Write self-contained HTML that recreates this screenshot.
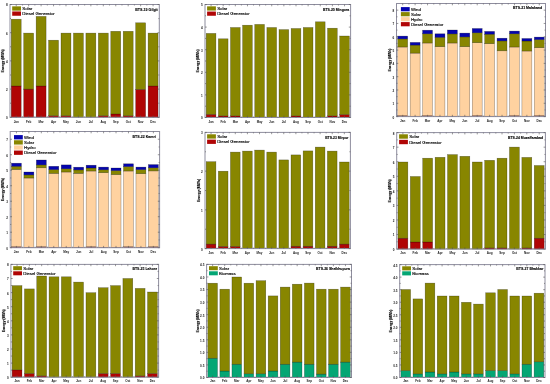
<!DOCTYPE html>
<html><head><meta charset="utf-8"><style>
html,body{margin:0;padding:0;background:#fff;}
body{width:550px;height:384px;overflow:hidden;}
svg{display:block;will-change:transform;}
text{font-family:"Liberation Sans",sans-serif;fill:#000;stroke:#000;stroke-width:0.1;}
.t{font-size:3.1px;font-weight:bold;stroke-width:0;fill:#1a1a1a;}
.m{font-size:3.0px;font-weight:bold;stroke-width:0;fill:#1a1a1a;}
.l{font-size:4.3px;stroke-width:0.14;}
.ti{font-size:3.9px;font-weight:bold;}
.b{stroke:#000;stroke-opacity:0.45;stroke-width:0.5;}
.yl{font-size:3.45px;font-weight:bold;}
</style></head><body>
<svg width="550" height="384" viewBox="0 0 550 384">
<rect width="550" height="384" fill="#fff"/>
<g><rect x="11.24" y="86" width="9.95" height="31.3" fill="#b00505" class="b"/>
<rect x="11.24" y="19.2" width="9.95" height="66.8" fill="#888600" class="b"/>
<rect x="23.69" y="89.1" width="9.95" height="28.2" fill="#b00505" class="b"/>
<rect x="23.69" y="33.1" width="9.95" height="56" fill="#888600" class="b"/>
<rect x="36.13" y="86" width="9.95" height="31.3" fill="#b00505" class="b"/>
<rect x="36.13" y="16.4" width="9.95" height="69.6" fill="#888600" class="b"/>
<rect x="48.57" y="115.8" width="9.95" height="1.5" fill="#b00505" class="b"/>
<rect x="48.57" y="40.2" width="9.95" height="75.6" fill="#888600" class="b"/>
<rect x="61.01" y="115.8" width="9.95" height="1.5" fill="#b00505" class="b"/>
<rect x="61.01" y="33.1" width="9.95" height="82.7" fill="#888600" class="b"/>
<rect x="73.45" y="33.1" width="9.95" height="84.2" fill="#888600" class="b"/>
<rect x="85.89" y="33.1" width="9.95" height="84.2" fill="#888600" class="b"/>
<rect x="98.34" y="115.8" width="9.95" height="1.5" fill="#b00505" class="b"/>
<rect x="98.34" y="33.1" width="9.95" height="82.7" fill="#888600" class="b"/>
<rect x="110.78" y="114" width="9.95" height="3.3" fill="#b00505" class="b"/>
<rect x="110.78" y="31.3" width="9.95" height="82.7" fill="#888600" class="b"/>
<rect x="123.22" y="115.8" width="9.95" height="1.5" fill="#b00505" class="b"/>
<rect x="123.22" y="31.3" width="9.95" height="84.5" fill="#888600" class="b"/>
<rect x="135.66" y="89.4" width="9.95" height="27.9" fill="#b00505" class="b"/>
<rect x="135.66" y="22.8" width="9.95" height="66.6" fill="#888600" class="b"/>
<rect x="148.1" y="86" width="9.95" height="31.3" fill="#b00505" class="b"/>
<rect x="148.1" y="33.1" width="9.95" height="52.9" fill="#888600" class="b"/>
<rect x="10" y="4.5" width="149.3" height="112.8" fill="none" stroke="#8e8d9e" stroke-width="1.0"/>
<path d="M10 117.3h1.8M159.3 117.3h-1.8M10 89.1h1.8M159.3 89.1h-1.8M10 60.9h1.8M159.3 60.9h-1.8M10 32.7h1.8M159.3 32.7h-1.8M10 4.5h1.8M159.3 4.5h-1.8M10 103.2h1M159.3 103.2h-1M10 75h1M159.3 75h-1M10 46.8h1M159.3 46.8h-1M10 18.6h1M159.3 18.6h-1M16.22 117.3v-1.8M16.22 4.5v1.8M28.66 117.3v-1.8M28.66 4.5v1.8M41.1 117.3v-1.8M41.1 4.5v1.8M53.55 117.3v-1.8M53.55 4.5v1.8M65.99 117.3v-1.8M65.99 4.5v1.8M78.43 117.3v-1.8M78.43 4.5v1.8M90.87 117.3v-1.8M90.87 4.5v1.8M103.31 117.3v-1.8M103.31 4.5v1.8M115.75 117.3v-1.8M115.75 4.5v1.8M128.2 117.3v-1.8M128.2 4.5v1.8M140.64 117.3v-1.8M140.64 4.5v1.8M153.08 117.3v-1.8M153.08 4.5v1.8M22.44 117.3v-1M22.44 4.5v1M34.88 117.3v-1M34.88 4.5v1M47.33 117.3v-1M47.33 4.5v1M59.77 117.3v-1M59.77 4.5v1M72.21 117.3v-1M72.21 4.5v1M84.65 117.3v-1M84.65 4.5v1M97.09 117.3v-1M97.09 4.5v1M109.53 117.3v-1M109.53 4.5v1M121.98 117.3v-1M121.98 4.5v1M134.42 117.3v-1M134.42 4.5v1M146.86 117.3v-1M146.86 4.5v1" stroke="#555" stroke-width="0.6" fill="none"/>
<text x="7.8" y="119.2" class="t" text-anchor="end">0</text>
<text x="7.8" y="91" class="t" text-anchor="end">2</text>
<text x="7.8" y="62.8" class="t" text-anchor="end">4</text>
<text x="7.8" y="34.6" class="t" text-anchor="end">6</text>
<text x="7.8" y="6.4" class="t" text-anchor="end">8</text>
<text x="16.22" y="123" class="m" text-anchor="middle">Jan</text>
<text x="28.66" y="123" class="m" text-anchor="middle">Feb</text>
<text x="41.1" y="123" class="m" text-anchor="middle">Mar</text>
<text x="53.55" y="123" class="m" text-anchor="middle">Apr</text>
<text x="65.99" y="123" class="m" text-anchor="middle">May</text>
<text x="78.43" y="123" class="m" text-anchor="middle">Jun</text>
<text x="90.87" y="123" class="m" text-anchor="middle">Jul</text>
<text x="103.31" y="123" class="m" text-anchor="middle">Aug</text>
<text x="115.75" y="123" class="m" text-anchor="middle">Sep</text>
<text x="128.2" y="123" class="m" text-anchor="middle">Oct</text>
<text x="140.64" y="123" class="m" text-anchor="middle">Nov</text>
<text x="153.08" y="123" class="m" text-anchor="middle">Dec</text>
<text transform="translate(4 60.9) rotate(-90)" class="yl" text-anchor="middle">Energy (MWh)</text>
<rect x="12.2" y="6.35" width="8.8" height="4.3" fill="#888600"/>
<text x="22.3" y="10" class="l">Solar</text>
<rect x="12.2" y="11.45" width="8.8" height="4.3" fill="#b00505"/>
<text x="22.3" y="15.1" class="l">Diesel Generator</text>
<text x="157.8" y="10.55" class="ti" style="font-size:3.6px" text-anchor="end">BTS-19 Gilgit</text></g>
<g><rect x="206.21" y="114.4" width="9.71" height="3.1" fill="#b00505" class="b"/>
<rect x="206.21" y="33.4" width="9.71" height="81" fill="#888600" class="b"/>
<rect x="218.35" y="115.9" width="9.71" height="1.6" fill="#b00505" class="b"/>
<rect x="218.35" y="38.8" width="9.71" height="77.1" fill="#888600" class="b"/>
<rect x="230.48" y="115.9" width="9.71" height="1.6" fill="#b00505" class="b"/>
<rect x="230.48" y="27.5" width="9.71" height="88.4" fill="#888600" class="b"/>
<rect x="242.61" y="25.2" width="9.71" height="92.3" fill="#888600" class="b"/>
<rect x="254.75" y="24.4" width="9.71" height="93.1" fill="#888600" class="b"/>
<rect x="266.88" y="27.5" width="9.71" height="90" fill="#888600" class="b"/>
<rect x="279.01" y="29.6" width="9.71" height="87.9" fill="#888600" class="b"/>
<rect x="291.15" y="115.9" width="9.71" height="1.6" fill="#b00505" class="b"/>
<rect x="291.15" y="28.5" width="9.71" height="87.4" fill="#888600" class="b"/>
<rect x="303.28" y="27.5" width="9.71" height="90" fill="#888600" class="b"/>
<rect x="315.41" y="21.8" width="9.71" height="95.7" fill="#888600" class="b"/>
<rect x="327.55" y="115.9" width="9.71" height="1.6" fill="#b00505" class="b"/>
<rect x="327.55" y="28.2" width="9.71" height="87.7" fill="#888600" class="b"/>
<rect x="339.68" y="114.6" width="9.71" height="2.9" fill="#b00505" class="b"/>
<rect x="339.68" y="36" width="9.71" height="78.6" fill="#888600" class="b"/>
<rect x="205" y="4.5" width="145.6" height="113" fill="none" stroke="#8e8d9e" stroke-width="1.0"/>
<path d="M205 117.5h1.8M350.6 117.5h-1.8M205 94.9h1.8M350.6 94.9h-1.8M205 72.3h1.8M350.6 72.3h-1.8M205 49.7h1.8M350.6 49.7h-1.8M205 27.1h1.8M350.6 27.1h-1.8M205 4.5h1.8M350.6 4.5h-1.8M205 106.2h1M350.6 106.2h-1M205 83.6h1M350.6 83.6h-1M205 61h1M350.6 61h-1M205 38.4h1M350.6 38.4h-1M205 15.8h1M350.6 15.8h-1M211.07 117.5v-1.8M211.07 4.5v1.8M223.2 117.5v-1.8M223.2 4.5v1.8M235.33 117.5v-1.8M235.33 4.5v1.8M247.47 117.5v-1.8M247.47 4.5v1.8M259.6 117.5v-1.8M259.6 4.5v1.8M271.73 117.5v-1.8M271.73 4.5v1.8M283.87 117.5v-1.8M283.87 4.5v1.8M296 117.5v-1.8M296 4.5v1.8M308.13 117.5v-1.8M308.13 4.5v1.8M320.27 117.5v-1.8M320.27 4.5v1.8M332.4 117.5v-1.8M332.4 4.5v1.8M344.53 117.5v-1.8M344.53 4.5v1.8M217.13 117.5v-1M217.13 4.5v1M229.27 117.5v-1M229.27 4.5v1M241.4 117.5v-1M241.4 4.5v1M253.53 117.5v-1M253.53 4.5v1M265.67 117.5v-1M265.67 4.5v1M277.8 117.5v-1M277.8 4.5v1M289.93 117.5v-1M289.93 4.5v1M302.07 117.5v-1M302.07 4.5v1M314.2 117.5v-1M314.2 4.5v1M326.33 117.5v-1M326.33 4.5v1M338.47 117.5v-1M338.47 4.5v1" stroke="#555" stroke-width="0.6" fill="none"/>
<text x="202.8" y="119.4" class="t" text-anchor="end">0</text>
<text x="202.8" y="96.8" class="t" text-anchor="end">1</text>
<text x="202.8" y="74.2" class="t" text-anchor="end">2</text>
<text x="202.8" y="51.6" class="t" text-anchor="end">3</text>
<text x="202.8" y="29" class="t" text-anchor="end">4</text>
<text x="202.8" y="6.4" class="t" text-anchor="end">5</text>
<text x="211.07" y="123" class="m" text-anchor="middle">Jan</text>
<text x="223.2" y="123" class="m" text-anchor="middle">Feb</text>
<text x="235.33" y="123" class="m" text-anchor="middle">Mar</text>
<text x="247.47" y="123" class="m" text-anchor="middle">Apr</text>
<text x="259.6" y="123" class="m" text-anchor="middle">May</text>
<text x="271.73" y="123" class="m" text-anchor="middle">Jun</text>
<text x="283.87" y="123" class="m" text-anchor="middle">Jul</text>
<text x="296" y="123" class="m" text-anchor="middle">Aug</text>
<text x="308.13" y="123" class="m" text-anchor="middle">Sep</text>
<text x="320.27" y="123" class="m" text-anchor="middle">Oct</text>
<text x="332.4" y="123" class="m" text-anchor="middle">Nov</text>
<text x="344.53" y="123" class="m" text-anchor="middle">Dec</text>
<text transform="translate(198.9 61) rotate(-90)" class="yl" text-anchor="middle">Energy (MWh)</text>
<rect x="207.1" y="6.35" width="8.8" height="4.2" fill="#888600"/>
<text x="217.2" y="9.95" class="l">Solar</text>
<rect x="207.1" y="11.55" width="8.8" height="4.2" fill="#b00505"/>
<text x="217.2" y="15.15" class="l">Diesel Generator</text>
<text x="349.1" y="10.55" class="ti" style="font-size:3.44px" text-anchor="end">BTS-20 Mingora</text></g>
<g><rect x="397.74" y="115.6" width="9.93" height="1" fill="#b00505" class="b"/>
<rect x="397.74" y="47" width="9.93" height="68.6" fill="#ffd2a0" class="b"/>
<rect x="397.74" y="38.9" width="9.93" height="8.1" fill="#888600" class="b"/>
<rect x="397.74" y="36.1" width="9.93" height="2.8" fill="#0505af" class="b"/>
<rect x="410.16" y="116.2" width="9.93" height="0.4" fill="#b00505" class="b"/>
<rect x="410.16" y="53.1" width="9.93" height="63.1" fill="#ffd2a0" class="b"/>
<rect x="410.16" y="45.1" width="9.93" height="8" fill="#888600" class="b"/>
<rect x="410.16" y="42.4" width="9.93" height="2.7" fill="#0505af" class="b"/>
<rect x="422.57" y="115.6" width="9.93" height="1" fill="#b00505" class="b"/>
<rect x="422.57" y="43" width="9.93" height="72.6" fill="#ffd2a0" class="b"/>
<rect x="422.57" y="33.8" width="9.93" height="9.2" fill="#888600" class="b"/>
<rect x="422.57" y="30.2" width="9.93" height="3.6" fill="#0505af" class="b"/>
<rect x="434.99" y="116.2" width="9.93" height="0.4" fill="#b00505" class="b"/>
<rect x="434.99" y="46.7" width="9.93" height="69.5" fill="#ffd2a0" class="b"/>
<rect x="434.99" y="37.3" width="9.93" height="9.4" fill="#888600" class="b"/>
<rect x="434.99" y="33.8" width="9.93" height="3.5" fill="#0505af" class="b"/>
<rect x="447.41" y="116.2" width="9.93" height="0.4" fill="#b00505" class="b"/>
<rect x="447.41" y="43" width="9.93" height="73.2" fill="#ffd2a0" class="b"/>
<rect x="447.41" y="33.9" width="9.93" height="9.1" fill="#888600" class="b"/>
<rect x="447.41" y="30" width="9.93" height="3.9" fill="#0505af" class="b"/>
<rect x="459.82" y="116.2" width="9.93" height="0.4" fill="#b00505" class="b"/>
<rect x="459.82" y="46.7" width="9.93" height="69.5" fill="#ffd2a0" class="b"/>
<rect x="459.82" y="36.9" width="9.93" height="9.8" fill="#888600" class="b"/>
<rect x="459.82" y="33.1" width="9.93" height="3.8" fill="#0505af" class="b"/>
<rect x="472.24" y="115.6" width="9.93" height="1" fill="#b00505" class="b"/>
<rect x="472.24" y="42.7" width="9.93" height="72.9" fill="#ffd2a0" class="b"/>
<rect x="472.24" y="32.8" width="9.93" height="9.9" fill="#888600" class="b"/>
<rect x="472.24" y="28.5" width="9.93" height="4.3" fill="#0505af" class="b"/>
<rect x="484.66" y="116.2" width="9.93" height="0.4" fill="#b00505" class="b"/>
<rect x="484.66" y="43.7" width="9.93" height="72.5" fill="#ffd2a0" class="b"/>
<rect x="484.66" y="34.2" width="9.93" height="9.5" fill="#888600" class="b"/>
<rect x="484.66" y="31.4" width="9.93" height="2.8" fill="#0505af" class="b"/>
<rect x="497.07" y="116.2" width="9.93" height="0.4" fill="#b00505" class="b"/>
<rect x="497.07" y="50.8" width="9.93" height="65.4" fill="#ffd2a0" class="b"/>
<rect x="497.07" y="40.9" width="9.93" height="9.9" fill="#888600" class="b"/>
<rect x="497.07" y="38.2" width="9.93" height="2.7" fill="#0505af" class="b"/>
<rect x="509.49" y="115.6" width="9.93" height="1" fill="#b00505" class="b"/>
<rect x="509.49" y="47" width="9.93" height="68.6" fill="#ffd2a0" class="b"/>
<rect x="509.49" y="33.8" width="9.93" height="13.2" fill="#888600" class="b"/>
<rect x="509.49" y="31.1" width="9.93" height="2.7" fill="#0505af" class="b"/>
<rect x="521.91" y="116.2" width="9.93" height="0.4" fill="#b00505" class="b"/>
<rect x="521.91" y="51" width="9.93" height="65.2" fill="#ffd2a0" class="b"/>
<rect x="521.91" y="41" width="9.93" height="10" fill="#888600" class="b"/>
<rect x="521.91" y="38.5" width="9.93" height="2.5" fill="#0505af" class="b"/>
<rect x="534.32" y="115.6" width="9.93" height="1" fill="#b00505" class="b"/>
<rect x="534.32" y="47.7" width="9.93" height="67.9" fill="#ffd2a0" class="b"/>
<rect x="534.32" y="39.6" width="9.93" height="8.1" fill="#888600" class="b"/>
<rect x="534.32" y="37.1" width="9.93" height="2.5" fill="#0505af" class="b"/>
<rect x="396.5" y="3.5" width="149" height="113.1" fill="none" stroke="#8e8d9e" stroke-width="1.0"/>
<path d="M396.5 116.6h1.8M545.5 116.6h-1.8M396.5 103.29h1.8M545.5 103.29h-1.8M396.5 89.99h1.8M545.5 89.99h-1.8M396.5 76.68h1.8M545.5 76.68h-1.8M396.5 63.38h1.8M545.5 63.38h-1.8M396.5 50.07h1.8M545.5 50.07h-1.8M396.5 36.76h1.8M545.5 36.76h-1.8M396.5 23.46h1.8M545.5 23.46h-1.8M396.5 10.15h1.8M545.5 10.15h-1.8M396.5 109.95h1M545.5 109.95h-1M396.5 96.64h1M545.5 96.64h-1M396.5 83.34h1M545.5 83.34h-1M396.5 70.03h1M545.5 70.03h-1M396.5 56.72h1M545.5 56.72h-1M396.5 43.42h1M545.5 43.42h-1M396.5 30.11h1M545.5 30.11h-1M396.5 16.81h1M545.5 16.81h-1M402.71 116.6v-1.8M402.71 3.5v1.8M415.12 116.6v-1.8M415.12 3.5v1.8M427.54 116.6v-1.8M427.54 3.5v1.8M439.96 116.6v-1.8M439.96 3.5v1.8M452.38 116.6v-1.8M452.38 3.5v1.8M464.79 116.6v-1.8M464.79 3.5v1.8M477.21 116.6v-1.8M477.21 3.5v1.8M489.62 116.6v-1.8M489.62 3.5v1.8M502.04 116.6v-1.8M502.04 3.5v1.8M514.46 116.6v-1.8M514.46 3.5v1.8M526.88 116.6v-1.8M526.88 3.5v1.8M539.29 116.6v-1.8M539.29 3.5v1.8M408.92 116.6v-1M408.92 3.5v1M421.33 116.6v-1M421.33 3.5v1M433.75 116.6v-1M433.75 3.5v1M446.17 116.6v-1M446.17 3.5v1M458.58 116.6v-1M458.58 3.5v1M471 116.6v-1M471 3.5v1M483.42 116.6v-1M483.42 3.5v1M495.83 116.6v-1M495.83 3.5v1M508.25 116.6v-1M508.25 3.5v1M520.67 116.6v-1M520.67 3.5v1M533.08 116.6v-1M533.08 3.5v1" stroke="#555" stroke-width="0.6" fill="none"/>
<text x="394.3" y="118.5" class="t" text-anchor="end">0</text>
<text x="394.3" y="105.19" class="t" text-anchor="end">1</text>
<text x="394.3" y="91.89" class="t" text-anchor="end">2</text>
<text x="394.3" y="78.58" class="t" text-anchor="end">3</text>
<text x="394.3" y="65.28" class="t" text-anchor="end">4</text>
<text x="394.3" y="51.97" class="t" text-anchor="end">5</text>
<text x="394.3" y="38.66" class="t" text-anchor="end">6</text>
<text x="394.3" y="25.36" class="t" text-anchor="end">7</text>
<text x="394.3" y="12.05" class="t" text-anchor="end">8</text>
<text x="402.71" y="122" class="m" text-anchor="middle">Jan</text>
<text x="415.12" y="122" class="m" text-anchor="middle">Feb</text>
<text x="427.54" y="122" class="m" text-anchor="middle">Mar</text>
<text x="439.96" y="122" class="m" text-anchor="middle">Apr</text>
<text x="452.38" y="122" class="m" text-anchor="middle">May</text>
<text x="464.79" y="122" class="m" text-anchor="middle">Jun</text>
<text x="477.21" y="122" class="m" text-anchor="middle">Jul</text>
<text x="489.62" y="122" class="m" text-anchor="middle">Aug</text>
<text x="502.04" y="122" class="m" text-anchor="middle">Sep</text>
<text x="514.46" y="122" class="m" text-anchor="middle">Oct</text>
<text x="526.88" y="122" class="m" text-anchor="middle">Nov</text>
<text x="539.29" y="122" class="m" text-anchor="middle">Dec</text>
<text transform="translate(390.8 60.05) rotate(-90)" class="yl" text-anchor="middle">Energy (MWh)</text>
<rect x="400.9" y="7.1" width="8.8" height="4.2" fill="#0505af"/>
<text x="411" y="10.7" class="l">Wind</text>
<rect x="400.9" y="12.1" width="8.8" height="4.2" fill="#888600"/>
<text x="411" y="15.7" class="l">Solar</text>
<rect x="400.9" y="17.1" width="8.8" height="4.2" fill="#ffd2a0"/>
<text x="411" y="20.7" class="l">Hydro</text>
<rect x="400.9" y="22.1" width="8.8" height="4.2" fill="#b00505"/>
<text x="411" y="25.7" class="l">Diesel Generator</text>
<text x="542.2" y="9.45" class="ti" style="font-size:3.54px" text-anchor="end">BTS-21 Malakand</text></g>
<g><rect x="11.45" y="246.7" width="9.96" height="1" fill="#b00505" class="b"/>
<rect x="11.45" y="169.5" width="9.96" height="77.2" fill="#ffd2a0" class="b"/>
<rect x="11.45" y="166.3" width="9.96" height="3.2" fill="#888600" class="b"/>
<rect x="11.45" y="163.2" width="9.96" height="3.1" fill="#0505af" class="b"/>
<rect x="23.89" y="247.3" width="9.96" height="0.4" fill="#b00505" class="b"/>
<rect x="23.89" y="178" width="9.96" height="69.3" fill="#ffd2a0" class="b"/>
<rect x="23.89" y="174.9" width="9.96" height="3.1" fill="#888600" class="b"/>
<rect x="23.89" y="172" width="9.96" height="2.9" fill="#0505af" class="b"/>
<rect x="36.34" y="246.7" width="9.96" height="1" fill="#b00505" class="b"/>
<rect x="36.34" y="167.8" width="9.96" height="78.9" fill="#ffd2a0" class="b"/>
<rect x="36.34" y="164.9" width="9.96" height="2.9" fill="#888600" class="b"/>
<rect x="36.34" y="160" width="9.96" height="4.9" fill="#0505af" class="b"/>
<rect x="48.79" y="247.3" width="9.96" height="0.4" fill="#b00505" class="b"/>
<rect x="48.79" y="173.4" width="9.96" height="73.9" fill="#ffd2a0" class="b"/>
<rect x="48.79" y="169.6" width="9.96" height="3.8" fill="#888600" class="b"/>
<rect x="48.79" y="166.3" width="9.96" height="3.3" fill="#0505af" class="b"/>
<rect x="61.24" y="247.3" width="9.96" height="0.4" fill="#b00505" class="b"/>
<rect x="61.24" y="172" width="9.96" height="75.3" fill="#ffd2a0" class="b"/>
<rect x="61.24" y="168.8" width="9.96" height="3.2" fill="#888600" class="b"/>
<rect x="61.24" y="164.9" width="9.96" height="3.9" fill="#0505af" class="b"/>
<rect x="73.7" y="247.3" width="9.96" height="0.4" fill="#b00505" class="b"/>
<rect x="73.7" y="173.4" width="9.96" height="73.9" fill="#ffd2a0" class="b"/>
<rect x="73.7" y="169.9" width="9.96" height="3.5" fill="#888600" class="b"/>
<rect x="73.7" y="167.2" width="9.96" height="2.7" fill="#0505af" class="b"/>
<rect x="86.15" y="246.7" width="9.96" height="1" fill="#b00505" class="b"/>
<rect x="86.15" y="171" width="9.96" height="75.7" fill="#ffd2a0" class="b"/>
<rect x="86.15" y="168" width="9.96" height="3" fill="#888600" class="b"/>
<rect x="86.15" y="165.2" width="9.96" height="2.8" fill="#0505af" class="b"/>
<rect x="98.6" y="247.3" width="9.96" height="0.4" fill="#b00505" class="b"/>
<rect x="98.6" y="172.7" width="9.96" height="74.6" fill="#ffd2a0" class="b"/>
<rect x="98.6" y="169.8" width="9.96" height="2.9" fill="#888600" class="b"/>
<rect x="98.6" y="167.1" width="9.96" height="2.7" fill="#0505af" class="b"/>
<rect x="111.05" y="247.3" width="9.96" height="0.4" fill="#b00505" class="b"/>
<rect x="111.05" y="174.6" width="9.96" height="72.7" fill="#ffd2a0" class="b"/>
<rect x="111.05" y="170.6" width="9.96" height="4" fill="#888600" class="b"/>
<rect x="111.05" y="168" width="9.96" height="2.6" fill="#0505af" class="b"/>
<rect x="123.5" y="246.7" width="9.96" height="1" fill="#b00505" class="b"/>
<rect x="123.5" y="171" width="9.96" height="75.7" fill="#ffd2a0" class="b"/>
<rect x="123.5" y="166.6" width="9.96" height="4.4" fill="#888600" class="b"/>
<rect x="123.5" y="163.8" width="9.96" height="2.8" fill="#0505af" class="b"/>
<rect x="135.95" y="247.3" width="9.96" height="0.4" fill="#b00505" class="b"/>
<rect x="135.95" y="173.7" width="9.96" height="73.6" fill="#ffd2a0" class="b"/>
<rect x="135.95" y="169.6" width="9.96" height="4.1" fill="#888600" class="b"/>
<rect x="135.95" y="167.1" width="9.96" height="2.5" fill="#0505af" class="b"/>
<rect x="148.4" y="246.7" width="9.96" height="1" fill="#b00505" class="b"/>
<rect x="148.4" y="170.9" width="9.96" height="75.8" fill="#ffd2a0" class="b"/>
<rect x="148.4" y="167.8" width="9.96" height="3.1" fill="#888600" class="b"/>
<rect x="148.4" y="164.6" width="9.96" height="3.2" fill="#0505af" class="b"/>
<rect x="10.2" y="131.5" width="149.4" height="116.2" fill="none" stroke="#8e8d9e" stroke-width="1.0"/>
<path d="M10.2 247.7h1.8M159.6 247.7h-1.8M10.2 232.21h1.8M159.6 232.21h-1.8M10.2 216.71h1.8M159.6 216.71h-1.8M10.2 201.22h1.8M159.6 201.22h-1.8M10.2 185.73h1.8M159.6 185.73h-1.8M10.2 170.23h1.8M159.6 170.23h-1.8M10.2 154.74h1.8M159.6 154.74h-1.8M10.2 139.25h1.8M159.6 139.25h-1.8M10.2 239.95h1M159.6 239.95h-1M10.2 224.46h1M159.6 224.46h-1M10.2 208.97h1M159.6 208.97h-1M10.2 193.47h1M159.6 193.47h-1M10.2 177.98h1M159.6 177.98h-1M10.2 162.49h1M159.6 162.49h-1M10.2 146.99h1M159.6 146.99h-1M16.43 247.7v-1.8M16.43 131.5v1.8M28.88 247.7v-1.8M28.88 131.5v1.8M41.33 247.7v-1.8M41.33 131.5v1.8M53.78 247.7v-1.8M53.78 131.5v1.8M66.23 247.7v-1.8M66.23 131.5v1.8M78.68 247.7v-1.8M78.68 131.5v1.8M91.13 247.7v-1.8M91.13 131.5v1.8M103.58 247.7v-1.8M103.58 131.5v1.8M116.03 247.7v-1.8M116.03 131.5v1.8M128.47 247.7v-1.8M128.47 131.5v1.8M140.93 247.7v-1.8M140.93 131.5v1.8M153.38 247.7v-1.8M153.38 131.5v1.8M22.65 247.7v-1M22.65 131.5v1M35.1 247.7v-1M35.1 131.5v1M47.55 247.7v-1M47.55 131.5v1M60 247.7v-1M60 131.5v1M72.45 247.7v-1M72.45 131.5v1M84.9 247.7v-1M84.9 131.5v1M97.35 247.7v-1M97.35 131.5v1M109.8 247.7v-1M109.8 131.5v1M122.25 247.7v-1M122.25 131.5v1M134.7 247.7v-1M134.7 131.5v1M147.15 247.7v-1M147.15 131.5v1" stroke="#555" stroke-width="0.6" fill="none"/>
<text x="8" y="249.6" class="t" text-anchor="end">0</text>
<text x="8" y="234.11" class="t" text-anchor="end">1</text>
<text x="8" y="218.61" class="t" text-anchor="end">2</text>
<text x="8" y="203.12" class="t" text-anchor="end">3</text>
<text x="8" y="187.63" class="t" text-anchor="end">4</text>
<text x="8" y="172.13" class="t" text-anchor="end">5</text>
<text x="8" y="156.64" class="t" text-anchor="end">6</text>
<text x="8" y="141.15" class="t" text-anchor="end">7</text>
<text x="16.43" y="253" class="m" text-anchor="middle">Jan</text>
<text x="28.88" y="253" class="m" text-anchor="middle">Feb</text>
<text x="41.33" y="253" class="m" text-anchor="middle">Mar</text>
<text x="53.78" y="253" class="m" text-anchor="middle">Apr</text>
<text x="66.23" y="253" class="m" text-anchor="middle">May</text>
<text x="78.68" y="253" class="m" text-anchor="middle">Jun</text>
<text x="91.13" y="253" class="m" text-anchor="middle">Jul</text>
<text x="103.58" y="253" class="m" text-anchor="middle">Aug</text>
<text x="116.03" y="253" class="m" text-anchor="middle">Sep</text>
<text x="128.47" y="253" class="m" text-anchor="middle">Oct</text>
<text x="140.93" y="253" class="m" text-anchor="middle">Nov</text>
<text x="153.38" y="253" class="m" text-anchor="middle">Dec</text>
<text transform="translate(4.1 189.6) rotate(-90)" class="yl" text-anchor="middle">Energy (MWh)</text>
<rect x="14" y="135.1" width="8.8" height="4.3" fill="#0505af"/>
<text x="24.1" y="138.75" class="l">Wind</text>
<rect x="14" y="140.25" width="8.8" height="4.3" fill="#888600"/>
<text x="24.1" y="143.9" class="l">Solar</text>
<rect x="14" y="145.4" width="8.8" height="4.3" fill="#ffd2a0"/>
<text x="24.1" y="149.05" class="l">Hydro</text>
<rect x="14" y="150.55" width="8.8" height="4.3" fill="#b00505"/>
<text x="24.1" y="154.2" class="l">Diesel Generator</text>
<text x="155.8" y="137.75" class="ti" style="font-size:3.55px" text-anchor="end">BTS-22 Kamri</text></g>
<g><rect x="206.21" y="244.1" width="9.69" height="4.5" fill="#b00505" class="b"/>
<rect x="206.21" y="161.7" width="9.69" height="82.4" fill="#888600" class="b"/>
<rect x="218.33" y="246.4" width="9.69" height="2.2" fill="#b00505" class="b"/>
<rect x="218.33" y="171.2" width="9.69" height="75.2" fill="#888600" class="b"/>
<rect x="230.44" y="246.4" width="9.69" height="2.2" fill="#b00505" class="b"/>
<rect x="230.44" y="152.1" width="9.69" height="94.3" fill="#888600" class="b"/>
<rect x="242.56" y="151.1" width="9.69" height="97.5" fill="#888600" class="b"/>
<rect x="254.68" y="150.1" width="9.69" height="98.5" fill="#888600" class="b"/>
<rect x="266.79" y="152.1" width="9.69" height="96.5" fill="#888600" class="b"/>
<rect x="278.91" y="159.9" width="9.69" height="88.7" fill="#888600" class="b"/>
<rect x="291.03" y="246.2" width="9.69" height="2.4" fill="#b00505" class="b"/>
<rect x="291.03" y="154.9" width="9.69" height="91.3" fill="#888600" class="b"/>
<rect x="303.14" y="246.2" width="9.69" height="2.4" fill="#b00505" class="b"/>
<rect x="303.14" y="150.9" width="9.69" height="95.3" fill="#888600" class="b"/>
<rect x="315.26" y="147.1" width="9.69" height="101.5" fill="#888600" class="b"/>
<rect x="327.38" y="246.2" width="9.69" height="2.4" fill="#b00505" class="b"/>
<rect x="327.38" y="151.1" width="9.69" height="95.1" fill="#888600" class="b"/>
<rect x="339.49" y="244.1" width="9.69" height="4.5" fill="#b00505" class="b"/>
<rect x="339.49" y="162" width="9.69" height="82.1" fill="#888600" class="b"/>
<rect x="205" y="132.4" width="145.4" height="116.2" fill="none" stroke="#8e8d9e" stroke-width="1.0"/>
<path d="M205 248.6h1.8M350.4 248.6h-1.8M205 209.87h1.8M350.4 209.87h-1.8M205 171.13h1.8M350.4 171.13h-1.8M205 132.4h1.8M350.4 132.4h-1.8M205 229.23h1M350.4 229.23h-1M205 190.5h1M350.4 190.5h-1M205 151.77h1M350.4 151.77h-1M211.06 248.6v-1.8M211.06 132.4v1.8M223.18 248.6v-1.8M223.18 132.4v1.8M235.29 248.6v-1.8M235.29 132.4v1.8M247.41 248.6v-1.8M247.41 132.4v1.8M259.52 248.6v-1.8M259.52 132.4v1.8M271.64 248.6v-1.8M271.64 132.4v1.8M283.76 248.6v-1.8M283.76 132.4v1.8M295.88 248.6v-1.8M295.88 132.4v1.8M307.99 248.6v-1.8M307.99 132.4v1.8M320.11 248.6v-1.8M320.11 132.4v1.8M332.22 248.6v-1.8M332.22 132.4v1.8M344.34 248.6v-1.8M344.34 132.4v1.8M217.12 248.6v-1M217.12 132.4v1M229.23 248.6v-1M229.23 132.4v1M241.35 248.6v-1M241.35 132.4v1M253.47 248.6v-1M253.47 132.4v1M265.58 248.6v-1M265.58 132.4v1M277.7 248.6v-1M277.7 132.4v1M289.82 248.6v-1M289.82 132.4v1M301.93 248.6v-1M301.93 132.4v1M314.05 248.6v-1M314.05 132.4v1M326.17 248.6v-1M326.17 132.4v1M338.28 248.6v-1M338.28 132.4v1" stroke="#555" stroke-width="0.6" fill="none"/>
<text x="202.8" y="250.5" class="t" text-anchor="end">0</text>
<text x="202.8" y="211.77" class="t" text-anchor="end">1</text>
<text x="202.8" y="173.03" class="t" text-anchor="end">2</text>
<text x="202.8" y="134.3" class="t" text-anchor="end">3</text>
<text x="211.06" y="254" class="m" text-anchor="middle">Jan</text>
<text x="223.18" y="254" class="m" text-anchor="middle">Feb</text>
<text x="235.29" y="254" class="m" text-anchor="middle">Mar</text>
<text x="247.41" y="254" class="m" text-anchor="middle">Apr</text>
<text x="259.52" y="254" class="m" text-anchor="middle">May</text>
<text x="271.64" y="254" class="m" text-anchor="middle">Jun</text>
<text x="283.76" y="254" class="m" text-anchor="middle">Jul</text>
<text x="295.88" y="254" class="m" text-anchor="middle">Aug</text>
<text x="307.99" y="254" class="m" text-anchor="middle">Sep</text>
<text x="320.11" y="254" class="m" text-anchor="middle">Oct</text>
<text x="332.22" y="254" class="m" text-anchor="middle">Nov</text>
<text x="344.34" y="254" class="m" text-anchor="middle">Dec</text>
<text transform="translate(199.5 190.5) rotate(-90)" class="yl" text-anchor="middle">Energy (MWh)</text>
<rect x="207.1" y="134.3" width="8.8" height="4.3" fill="#888600"/>
<text x="217.2" y="137.95" class="l">Solar</text>
<rect x="207.1" y="139.6" width="8.8" height="4.3" fill="#b00505"/>
<text x="217.2" y="143.25" class="l">Diesel Generator</text>
<text x="348.3" y="138.75" class="ti" style="font-size:3.4px" text-anchor="end">BTS-23 Mirpur</text></g>
<g><rect x="397.94" y="238.2" width="9.91" height="10.9" fill="#b00505" class="b"/>
<rect x="397.94" y="162" width="9.91" height="76.2" fill="#888600" class="b"/>
<rect x="410.33" y="242" width="9.91" height="7.1" fill="#b00505" class="b"/>
<rect x="410.33" y="176.5" width="9.91" height="65.5" fill="#888600" class="b"/>
<rect x="422.72" y="242" width="9.91" height="7.1" fill="#b00505" class="b"/>
<rect x="422.72" y="158.2" width="9.91" height="83.8" fill="#888600" class="b"/>
<rect x="435.11" y="157.3" width="9.91" height="91.8" fill="#888600" class="b"/>
<rect x="447.51" y="154.6" width="9.91" height="94.5" fill="#888600" class="b"/>
<rect x="459.9" y="156.3" width="9.91" height="92.8" fill="#888600" class="b"/>
<rect x="472.29" y="162" width="9.91" height="87.1" fill="#888600" class="b"/>
<rect x="484.68" y="248" width="9.91" height="1.1" fill="#b00505" class="b"/>
<rect x="484.68" y="160.3" width="9.91" height="87.7" fill="#888600" class="b"/>
<rect x="497.07" y="248" width="9.91" height="1.1" fill="#b00505" class="b"/>
<rect x="497.07" y="158.2" width="9.91" height="89.8" fill="#888600" class="b"/>
<rect x="509.46" y="147.1" width="9.91" height="102" fill="#888600" class="b"/>
<rect x="521.86" y="248" width="9.91" height="1.1" fill="#b00505" class="b"/>
<rect x="521.86" y="157.4" width="9.91" height="90.6" fill="#888600" class="b"/>
<rect x="534.25" y="238.2" width="9.91" height="10.9" fill="#b00505" class="b"/>
<rect x="534.25" y="165.5" width="9.91" height="72.7" fill="#888600" class="b"/>
<rect x="396.7" y="132.6" width="148.7" height="116.5" fill="none" stroke="#8e8d9e" stroke-width="1.0"/>
<path d="M396.7 249.1h1.8M545.4 249.1h-1.8M396.7 234.54h1.8M545.4 234.54h-1.8M396.7 219.97h1.8M545.4 219.97h-1.8M396.7 205.41h1.8M545.4 205.41h-1.8M396.7 190.85h1.8M545.4 190.85h-1.8M396.7 176.29h1.8M545.4 176.29h-1.8M396.7 161.72h1.8M545.4 161.72h-1.8M396.7 147.16h1.8M545.4 147.16h-1.8M396.7 132.6h1.8M545.4 132.6h-1.8M396.7 241.82h1M545.4 241.82h-1M396.7 227.26h1M545.4 227.26h-1M396.7 212.69h1M545.4 212.69h-1M396.7 198.13h1M545.4 198.13h-1M396.7 183.57h1M545.4 183.57h-1M396.7 169.01h1M545.4 169.01h-1M396.7 154.44h1M545.4 154.44h-1M396.7 139.88h1M545.4 139.88h-1M402.9 249.1v-1.8M402.9 132.6v1.8M415.29 249.1v-1.8M415.29 132.6v1.8M427.68 249.1v-1.8M427.68 132.6v1.8M440.07 249.1v-1.8M440.07 132.6v1.8M452.46 249.1v-1.8M452.46 132.6v1.8M464.85 249.1v-1.8M464.85 132.6v1.8M477.25 249.1v-1.8M477.25 132.6v1.8M489.64 249.1v-1.8M489.64 132.6v1.8M502.03 249.1v-1.8M502.03 132.6v1.8M514.42 249.1v-1.8M514.42 132.6v1.8M526.81 249.1v-1.8M526.81 132.6v1.8M539.2 249.1v-1.8M539.2 132.6v1.8M409.09 249.1v-1M409.09 132.6v1M421.48 249.1v-1M421.48 132.6v1M433.88 249.1v-1M433.88 132.6v1M446.27 249.1v-1M446.27 132.6v1M458.66 249.1v-1M458.66 132.6v1M471.05 249.1v-1M471.05 132.6v1M483.44 249.1v-1M483.44 132.6v1M495.83 249.1v-1M495.83 132.6v1M508.22 249.1v-1M508.22 132.6v1M520.62 249.1v-1M520.62 132.6v1M533.01 249.1v-1M533.01 132.6v1" stroke="#555" stroke-width="0.6" fill="none"/>
<text x="394.5" y="251" class="t" text-anchor="end">0</text>
<text x="394.5" y="236.44" class="t" text-anchor="end">1</text>
<text x="394.5" y="221.88" class="t" text-anchor="end">2</text>
<text x="394.5" y="207.31" class="t" text-anchor="end">3</text>
<text x="394.5" y="192.75" class="t" text-anchor="end">4</text>
<text x="394.5" y="178.19" class="t" text-anchor="end">5</text>
<text x="394.5" y="163.62" class="t" text-anchor="end">6</text>
<text x="394.5" y="149.06" class="t" text-anchor="end">7</text>
<text x="394.5" y="134.5" class="t" text-anchor="end">8</text>
<text x="402.9" y="254" class="m" text-anchor="middle">Jan</text>
<text x="415.29" y="254" class="m" text-anchor="middle">Feb</text>
<text x="427.68" y="254" class="m" text-anchor="middle">Mar</text>
<text x="440.07" y="254" class="m" text-anchor="middle">Apr</text>
<text x="452.46" y="254" class="m" text-anchor="middle">May</text>
<text x="464.85" y="254" class="m" text-anchor="middle">Jun</text>
<text x="477.25" y="254" class="m" text-anchor="middle">Jul</text>
<text x="489.64" y="254" class="m" text-anchor="middle">Aug</text>
<text x="502.03" y="254" class="m" text-anchor="middle">Sep</text>
<text x="514.42" y="254" class="m" text-anchor="middle">Oct</text>
<text x="526.81" y="254" class="m" text-anchor="middle">Nov</text>
<text x="539.2" y="254" class="m" text-anchor="middle">Dec</text>
<text transform="translate(390.9 190.85) rotate(-90)" class="yl" text-anchor="middle">Energy (MWh)</text>
<rect x="399.1" y="134.3" width="8.8" height="4.4" fill="#888600"/>
<text x="409.2" y="138" class="l">Solar</text>
<rect x="399.1" y="139.8" width="8.8" height="4.4" fill="#b00505"/>
<text x="409.2" y="143.5" class="l">Diesel Generator</text>
<text x="543.1" y="138.95" class="ti" style="font-size:3.46px" text-anchor="end">BTS-24 Muzaffarabad</text></g>
<g><rect x="12.13" y="369.9" width="9.85" height="7.3" fill="#b00505" class="b"/>
<rect x="12.13" y="285.6" width="9.85" height="84.3" fill="#888600" class="b"/>
<rect x="24.44" y="373.5" width="9.85" height="3.7" fill="#b00505" class="b"/>
<rect x="24.44" y="288.9" width="9.85" height="84.6" fill="#888600" class="b"/>
<rect x="36.75" y="375.9" width="9.85" height="1.3" fill="#b00505" class="b"/>
<rect x="36.75" y="276" width="9.85" height="99.9" fill="#888600" class="b"/>
<rect x="49.06" y="276.8" width="9.85" height="100.4" fill="#888600" class="b"/>
<rect x="61.36" y="276.8" width="9.85" height="100.4" fill="#888600" class="b"/>
<rect x="73.67" y="282.1" width="9.85" height="95.1" fill="#888600" class="b"/>
<rect x="85.98" y="292.7" width="9.85" height="84.5" fill="#888600" class="b"/>
<rect x="98.29" y="373.5" width="9.85" height="3.7" fill="#b00505" class="b"/>
<rect x="98.29" y="287.7" width="9.85" height="85.8" fill="#888600" class="b"/>
<rect x="110.6" y="373.5" width="9.85" height="3.7" fill="#b00505" class="b"/>
<rect x="110.6" y="285.6" width="9.85" height="87.9" fill="#888600" class="b"/>
<rect x="122.91" y="278.5" width="9.85" height="98.7" fill="#888600" class="b"/>
<rect x="135.21" y="375.9" width="9.85" height="1.3" fill="#b00505" class="b"/>
<rect x="135.21" y="288.4" width="9.85" height="87.5" fill="#888600" class="b"/>
<rect x="147.52" y="373.5" width="9.85" height="3.7" fill="#b00505" class="b"/>
<rect x="147.52" y="292" width="9.85" height="81.5" fill="#888600" class="b"/>
<rect x="10.9" y="264.4" width="147.7" height="112.8" fill="none" stroke="#8e8d9e" stroke-width="1.0"/>
<path d="M10.9 377.2h1.8M158.6 377.2h-1.8M10.9 363.1h1.8M158.6 363.1h-1.8M10.9 349h1.8M158.6 349h-1.8M10.9 334.9h1.8M158.6 334.9h-1.8M10.9 320.8h1.8M158.6 320.8h-1.8M10.9 306.7h1.8M158.6 306.7h-1.8M10.9 292.6h1.8M158.6 292.6h-1.8M10.9 278.5h1.8M158.6 278.5h-1.8M10.9 264.4h1.8M158.6 264.4h-1.8M10.9 370.15h1M158.6 370.15h-1M10.9 356.05h1M158.6 356.05h-1M10.9 341.95h1M158.6 341.95h-1M10.9 327.85h1M158.6 327.85h-1M10.9 313.75h1M158.6 313.75h-1M10.9 299.65h1M158.6 299.65h-1M10.9 285.55h1M158.6 285.55h-1M10.9 271.45h1M158.6 271.45h-1M17.05 377.2v-1.8M17.05 264.4v1.8M29.36 377.2v-1.8M29.36 264.4v1.8M41.67 377.2v-1.8M41.67 264.4v1.8M53.98 377.2v-1.8M53.98 264.4v1.8M66.29 377.2v-1.8M66.29 264.4v1.8M78.6 377.2v-1.8M78.6 264.4v1.8M90.9 377.2v-1.8M90.9 264.4v1.8M103.21 377.2v-1.8M103.21 264.4v1.8M115.52 377.2v-1.8M115.52 264.4v1.8M127.83 377.2v-1.8M127.83 264.4v1.8M140.14 377.2v-1.8M140.14 264.4v1.8M152.45 377.2v-1.8M152.45 264.4v1.8M23.21 377.2v-1M23.21 264.4v1M35.52 377.2v-1M35.52 264.4v1M47.82 377.2v-1M47.82 264.4v1M60.13 377.2v-1M60.13 264.4v1M72.44 377.2v-1M72.44 264.4v1M84.75 377.2v-1M84.75 264.4v1M97.06 377.2v-1M97.06 264.4v1M109.37 377.2v-1M109.37 264.4v1M121.67 377.2v-1M121.67 264.4v1M133.98 377.2v-1M133.98 264.4v1M146.29 377.2v-1M146.29 264.4v1" stroke="#555" stroke-width="0.6" fill="none"/>
<text x="8.7" y="379.1" class="t" text-anchor="end">0</text>
<text x="8.7" y="365" class="t" text-anchor="end">1</text>
<text x="8.7" y="350.9" class="t" text-anchor="end">2</text>
<text x="8.7" y="336.8" class="t" text-anchor="end">3</text>
<text x="8.7" y="322.7" class="t" text-anchor="end">4</text>
<text x="8.7" y="308.6" class="t" text-anchor="end">5</text>
<text x="8.7" y="294.5" class="t" text-anchor="end">6</text>
<text x="8.7" y="280.4" class="t" text-anchor="end">7</text>
<text x="8.7" y="266.3" class="t" text-anchor="end">8</text>
<text x="17.05" y="382" class="m" text-anchor="middle">Jan</text>
<text x="29.36" y="382" class="m" text-anchor="middle">Feb</text>
<text x="41.67" y="382" class="m" text-anchor="middle">Mar</text>
<text x="53.98" y="382" class="m" text-anchor="middle">Apr</text>
<text x="66.29" y="382" class="m" text-anchor="middle">May</text>
<text x="78.6" y="382" class="m" text-anchor="middle">Jun</text>
<text x="90.9" y="382" class="m" text-anchor="middle">Jul</text>
<text x="103.21" y="382" class="m" text-anchor="middle">Aug</text>
<text x="115.52" y="382" class="m" text-anchor="middle">Sep</text>
<text x="127.83" y="382" class="m" text-anchor="middle">Oct</text>
<text x="140.14" y="382" class="m" text-anchor="middle">Nov</text>
<text x="152.45" y="382" class="m" text-anchor="middle">Dec</text>
<text transform="translate(5.25 320.8) rotate(-90)" class="yl" text-anchor="middle">Energy (MWh)</text>
<rect x="13.2" y="266.2" width="8.8" height="4" fill="#888600"/>
<text x="23.3" y="269.7" class="l">Solar</text>
<rect x="13.2" y="271.3" width="8.8" height="4" fill="#b00505"/>
<text x="23.3" y="274.8" class="l">Diesel Generator</text>
<text x="157.1" y="269.95" class="ti" style="font-size:3.5px" text-anchor="end">BTS-25 Lahore</text></g>
<g><rect x="207.81" y="358.2" width="9.66" height="19.3" fill="#04a674" class="b"/>
<rect x="207.81" y="283.2" width="9.66" height="75" fill="#888600" class="b"/>
<rect x="219.88" y="371" width="9.66" height="6.5" fill="#04a674" class="b"/>
<rect x="219.88" y="289.2" width="9.66" height="81.8" fill="#888600" class="b"/>
<rect x="231.96" y="364.2" width="9.66" height="13.3" fill="#04a674" class="b"/>
<rect x="231.96" y="277" width="9.66" height="87.2" fill="#888600" class="b"/>
<rect x="244.03" y="373.8" width="9.66" height="3.7" fill="#04a674" class="b"/>
<rect x="244.03" y="283.2" width="9.66" height="90.6" fill="#888600" class="b"/>
<rect x="256.11" y="373.8" width="9.66" height="3.7" fill="#04a674" class="b"/>
<rect x="256.11" y="280.7" width="9.66" height="93.1" fill="#888600" class="b"/>
<rect x="268.18" y="371" width="9.66" height="6.5" fill="#04a674" class="b"/>
<rect x="268.18" y="295.9" width="9.66" height="75.1" fill="#888600" class="b"/>
<rect x="280.26" y="364.2" width="9.66" height="13.3" fill="#04a674" class="b"/>
<rect x="280.26" y="287.1" width="9.66" height="77.1" fill="#888600" class="b"/>
<rect x="292.33" y="362.1" width="9.66" height="15.4" fill="#04a674" class="b"/>
<rect x="292.33" y="284.2" width="9.66" height="77.9" fill="#888600" class="b"/>
<rect x="304.41" y="364.2" width="9.66" height="13.3" fill="#04a674" class="b"/>
<rect x="304.41" y="283.1" width="9.66" height="81.1" fill="#888600" class="b"/>
<rect x="316.48" y="374.1" width="9.66" height="3.4" fill="#04a674" class="b"/>
<rect x="316.48" y="289.2" width="9.66" height="84.9" fill="#888600" class="b"/>
<rect x="328.56" y="364.2" width="9.66" height="13.3" fill="#04a674" class="b"/>
<rect x="328.56" y="289.2" width="9.66" height="75" fill="#888600" class="b"/>
<rect x="340.63" y="362.1" width="9.66" height="15.4" fill="#04a674" class="b"/>
<rect x="340.63" y="287.1" width="9.66" height="75" fill="#888600" class="b"/>
<rect x="206.6" y="264.4" width="144.9" height="113.1" fill="none" stroke="#8e8d9e" stroke-width="1.0"/>
<path d="M206.6 377.5h1.8M351.5 377.5h-1.8M206.6 364.93h1.8M351.5 364.93h-1.8M206.6 352.37h1.8M351.5 352.37h-1.8M206.6 339.8h1.8M351.5 339.8h-1.8M206.6 327.23h1.8M351.5 327.23h-1.8M206.6 314.67h1.8M351.5 314.67h-1.8M206.6 302.1h1.8M351.5 302.1h-1.8M206.6 289.53h1.8M351.5 289.53h-1.8M206.6 276.97h1.8M351.5 276.97h-1.8M206.6 264.4h1.8M351.5 264.4h-1.8M206.6 371.22h1M351.5 371.22h-1M206.6 358.65h1M351.5 358.65h-1M206.6 346.08h1M351.5 346.08h-1M206.6 333.52h1M351.5 333.52h-1M206.6 320.95h1M351.5 320.95h-1M206.6 308.38h1M351.5 308.38h-1M206.6 295.82h1M351.5 295.82h-1M206.6 283.25h1M351.5 283.25h-1M206.6 270.68h1M351.5 270.68h-1M212.64 377.5v-1.8M212.64 264.4v1.8M224.71 377.5v-1.8M224.71 264.4v1.8M236.79 377.5v-1.8M236.79 264.4v1.8M248.86 377.5v-1.8M248.86 264.4v1.8M260.94 377.5v-1.8M260.94 264.4v1.8M273.01 377.5v-1.8M273.01 264.4v1.8M285.09 377.5v-1.8M285.09 264.4v1.8M297.16 377.5v-1.8M297.16 264.4v1.8M309.24 377.5v-1.8M309.24 264.4v1.8M321.31 377.5v-1.8M321.31 264.4v1.8M333.39 377.5v-1.8M333.39 264.4v1.8M345.46 377.5v-1.8M345.46 264.4v1.8M218.67 377.5v-1M218.67 264.4v1M230.75 377.5v-1M230.75 264.4v1M242.82 377.5v-1M242.82 264.4v1M254.9 377.5v-1M254.9 264.4v1M266.98 377.5v-1M266.98 264.4v1M279.05 377.5v-1M279.05 264.4v1M291.12 377.5v-1M291.12 264.4v1M303.2 377.5v-1M303.2 264.4v1M315.27 377.5v-1M315.27 264.4v1M327.35 377.5v-1M327.35 264.4v1M339.43 377.5v-1M339.43 264.4v1" stroke="#555" stroke-width="0.6" fill="none"/>
<text x="204.4" y="379.4" class="t" text-anchor="end">0.0</text>
<text x="204.4" y="366.83" class="t" text-anchor="end">0.5</text>
<text x="204.4" y="354.27" class="t" text-anchor="end">1.0</text>
<text x="204.4" y="341.7" class="t" text-anchor="end">1.5</text>
<text x="204.4" y="329.13" class="t" text-anchor="end">2.0</text>
<text x="204.4" y="316.57" class="t" text-anchor="end">2.5</text>
<text x="204.4" y="304" class="t" text-anchor="end">3.0</text>
<text x="204.4" y="291.43" class="t" text-anchor="end">3.5</text>
<text x="204.4" y="278.87" class="t" text-anchor="end">4.0</text>
<text x="204.4" y="266.3" class="t" text-anchor="end">4.5</text>
<text x="212.64" y="382" class="m" text-anchor="middle">Jan</text>
<text x="224.71" y="382" class="m" text-anchor="middle">Feb</text>
<text x="236.79" y="382" class="m" text-anchor="middle">Mar</text>
<text x="248.86" y="382" class="m" text-anchor="middle">Apr</text>
<text x="260.94" y="382" class="m" text-anchor="middle">May</text>
<text x="273.01" y="382" class="m" text-anchor="middle">Jun</text>
<text x="285.09" y="382" class="m" text-anchor="middle">Jul</text>
<text x="297.16" y="382" class="m" text-anchor="middle">Aug</text>
<text x="309.24" y="382" class="m" text-anchor="middle">Sep</text>
<text x="321.31" y="382" class="m" text-anchor="middle">Oct</text>
<text x="333.39" y="382" class="m" text-anchor="middle">Nov</text>
<text x="345.46" y="382" class="m" text-anchor="middle">Dec</text>
<text transform="translate(198.6 320.95) rotate(-90)" class="yl" text-anchor="middle">Energy (MWh)</text>
<rect x="209" y="266.2" width="8.8" height="4" fill="#888600"/>
<text x="219.1" y="269.7" class="l">Solar</text>
<rect x="209" y="271.3" width="8.8" height="4" fill="#04a674"/>
<text x="219.1" y="274.8" class="l">Biomass</text>
<text x="349.9" y="270.15" class="ti" style="font-size:3.46px" text-anchor="end">BTS-26 Sheikhupura</text></g>
<g><rect x="400.91" y="370.6" width="9.69" height="6.9" fill="#04a674" class="b"/>
<rect x="400.91" y="289.5" width="9.69" height="81.1" fill="#888600" class="b"/>
<rect x="413.02" y="373.9" width="9.69" height="3.6" fill="#04a674" class="b"/>
<rect x="413.02" y="298.9" width="9.69" height="75" fill="#888600" class="b"/>
<rect x="425.13" y="372" width="9.69" height="5.5" fill="#04a674" class="b"/>
<rect x="425.13" y="283.1" width="9.69" height="88.9" fill="#888600" class="b"/>
<rect x="437.24" y="373.9" width="9.69" height="3.6" fill="#04a674" class="b"/>
<rect x="437.24" y="296" width="9.69" height="77.9" fill="#888600" class="b"/>
<rect x="449.34" y="372" width="9.69" height="5.5" fill="#04a674" class="b"/>
<rect x="449.34" y="296" width="9.69" height="76" fill="#888600" class="b"/>
<rect x="461.45" y="373.9" width="9.69" height="3.6" fill="#04a674" class="b"/>
<rect x="461.45" y="302.3" width="9.69" height="71.6" fill="#888600" class="b"/>
<rect x="473.56" y="373.9" width="9.69" height="3.6" fill="#04a674" class="b"/>
<rect x="473.56" y="304.1" width="9.69" height="69.8" fill="#888600" class="b"/>
<rect x="485.67" y="370.6" width="9.69" height="6.9" fill="#04a674" class="b"/>
<rect x="485.67" y="292.8" width="9.69" height="77.8" fill="#888600" class="b"/>
<rect x="497.78" y="370.6" width="9.69" height="6.9" fill="#04a674" class="b"/>
<rect x="497.78" y="289.5" width="9.69" height="81.1" fill="#888600" class="b"/>
<rect x="509.89" y="373.9" width="9.69" height="3.6" fill="#04a674" class="b"/>
<rect x="509.89" y="296" width="9.69" height="77.9" fill="#888600" class="b"/>
<rect x="521.99" y="364.2" width="9.69" height="13.3" fill="#04a674" class="b"/>
<rect x="521.99" y="296" width="9.69" height="68.2" fill="#888600" class="b"/>
<rect x="534.1" y="361.8" width="9.69" height="15.7" fill="#04a674" class="b"/>
<rect x="534.1" y="293.2" width="9.69" height="68.6" fill="#888600" class="b"/>
<rect x="399.7" y="264.6" width="145.3" height="112.9" fill="none" stroke="#8e8d9e" stroke-width="1.0"/>
<path d="M399.7 377.5h1.8M545 377.5h-1.8M399.7 364.96h1.8M545 364.96h-1.8M399.7 352.41h1.8M545 352.41h-1.8M399.7 339.87h1.8M545 339.87h-1.8M399.7 327.32h1.8M545 327.32h-1.8M399.7 314.78h1.8M545 314.78h-1.8M399.7 302.23h1.8M545 302.23h-1.8M399.7 289.69h1.8M545 289.69h-1.8M399.7 277.14h1.8M545 277.14h-1.8M399.7 264.6h1.8M545 264.6h-1.8M399.7 371.23h1M545 371.23h-1M399.7 358.68h1M545 358.68h-1M399.7 346.14h1M545 346.14h-1M399.7 333.59h1M545 333.59h-1M399.7 321.05h1M545 321.05h-1M399.7 308.51h1M545 308.51h-1M399.7 295.96h1M545 295.96h-1M399.7 283.42h1M545 283.42h-1M399.7 270.87h1M545 270.87h-1M405.75 377.5v-1.8M405.75 264.6v1.8M417.86 377.5v-1.8M417.86 264.6v1.8M429.97 377.5v-1.8M429.97 264.6v1.8M442.08 377.5v-1.8M442.08 264.6v1.8M454.19 377.5v-1.8M454.19 264.6v1.8M466.3 377.5v-1.8M466.3 264.6v1.8M478.4 377.5v-1.8M478.4 264.6v1.8M490.51 377.5v-1.8M490.51 264.6v1.8M502.62 377.5v-1.8M502.62 264.6v1.8M514.73 377.5v-1.8M514.73 264.6v1.8M526.84 377.5v-1.8M526.84 264.6v1.8M538.95 377.5v-1.8M538.95 264.6v1.8M411.81 377.5v-1M411.81 264.6v1M423.92 377.5v-1M423.92 264.6v1M436.02 377.5v-1M436.02 264.6v1M448.13 377.5v-1M448.13 264.6v1M460.24 377.5v-1M460.24 264.6v1M472.35 377.5v-1M472.35 264.6v1M484.46 377.5v-1M484.46 264.6v1M496.57 377.5v-1M496.57 264.6v1M508.68 377.5v-1M508.68 264.6v1M520.78 377.5v-1M520.78 264.6v1M532.89 377.5v-1M532.89 264.6v1" stroke="#555" stroke-width="0.6" fill="none"/>
<text x="397.5" y="379.4" class="t" text-anchor="end">0.0</text>
<text x="397.5" y="366.86" class="t" text-anchor="end">0.5</text>
<text x="397.5" y="354.31" class="t" text-anchor="end">1.0</text>
<text x="397.5" y="341.77" class="t" text-anchor="end">1.5</text>
<text x="397.5" y="329.22" class="t" text-anchor="end">2.0</text>
<text x="397.5" y="316.68" class="t" text-anchor="end">2.5</text>
<text x="397.5" y="304.13" class="t" text-anchor="end">3.0</text>
<text x="397.5" y="291.59" class="t" text-anchor="end">3.5</text>
<text x="397.5" y="279.04" class="t" text-anchor="end">4.0</text>
<text x="397.5" y="266.5" class="t" text-anchor="end">4.5</text>
<text x="405.75" y="382" class="m" text-anchor="middle">Jan</text>
<text x="417.86" y="382" class="m" text-anchor="middle">Feb</text>
<text x="429.97" y="382" class="m" text-anchor="middle">Mar</text>
<text x="442.08" y="382" class="m" text-anchor="middle">Apr</text>
<text x="454.19" y="382" class="m" text-anchor="middle">May</text>
<text x="466.3" y="382" class="m" text-anchor="middle">Jun</text>
<text x="478.4" y="382" class="m" text-anchor="middle">Jul</text>
<text x="490.51" y="382" class="m" text-anchor="middle">Aug</text>
<text x="502.62" y="382" class="m" text-anchor="middle">Sep</text>
<text x="514.73" y="382" class="m" text-anchor="middle">Oct</text>
<text x="526.84" y="382" class="m" text-anchor="middle">Nov</text>
<text x="538.95" y="382" class="m" text-anchor="middle">Dec</text>
<text transform="translate(391.9 321.05) rotate(-90)" class="yl" text-anchor="middle">Energy (MWh)</text>
<rect x="402.2" y="266.3" width="8.8" height="4.1" fill="#888600"/>
<text x="412.3" y="269.85" class="l">Solar</text>
<rect x="402.2" y="271.3" width="8.8" height="4.1" fill="#04a674"/>
<text x="412.3" y="274.85" class="l">Biomass</text>
<text x="543.3" y="270.45" class="ti" style="font-size:3.52px" text-anchor="end">BTS-27 Bhakkar</text></g>
</svg>
</body></html>
